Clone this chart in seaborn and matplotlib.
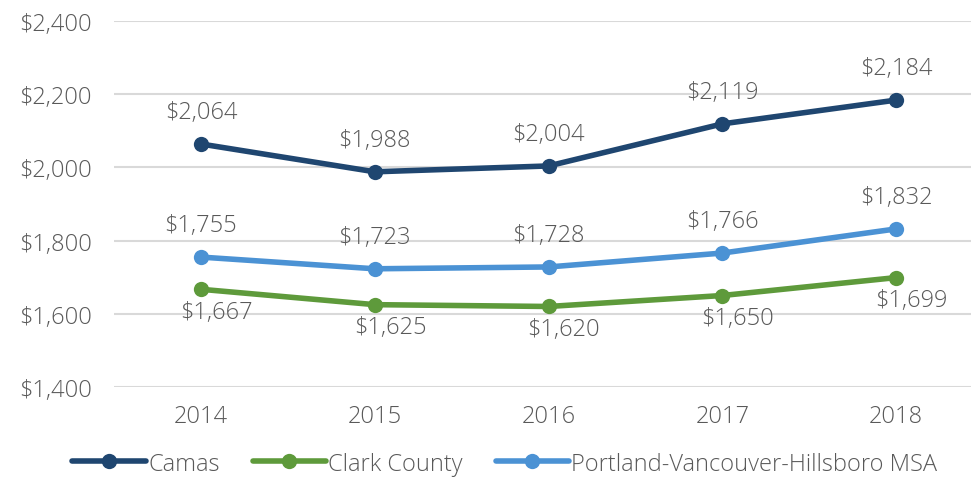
import matplotlib
matplotlib.use("Agg")
import matplotlib.pyplot as plt
import seaborn as sns
import pandas as pd
from matplotlib.lines import Line2D

years = ["2014", "2015", "2016", "2017", "2018"]
camas = [2064, 1988, 2004, 2119, 2184]
clark = [1667, 1625, 1620, 1650, 1699]
portland = [1755, 1723, 1728, 1766, 1832]

series_names = ["Camas", "Clark County", "Portland-Vancouver-Hillsboro MSA"]
colors = ["#1F4670", "#5E9A3B", "#4B92D4"]

df = pd.DataFrame({
    "Year": years * 3,
    "Rent": camas + clark + portland,
    "Area": [n for n in series_names for _ in years],
})
df["x"] = list(range(len(years))) * 3

sns.set_theme(style="white")
plt.rcParams["font.family"] = ["Open Sans", "DejaVu Sans"]
plt.rcParams["font.weight"] = "light"

fig = plt.figure(figsize=(9.71, 4.85), dpi=100)
ax = fig.add_axes([0.1174, 0.2, 0.8826, 0.7546])

sns.lineplot(data=df, x="x", y="Rent", hue="Area", palette=colors,
             hue_order=series_names, marker="o", markersize=11,
             markeredgewidth=0, linewidth=4, ax=ax, legend=False, zorder=3)

text_color = "#595959"
fs = 17
for vals, offset in [(camas, (0, 23)), (portland, (0, 23)), (clark, (11, -16))]:
    for i, v in enumerate(vals):
        ax.annotate(f"${v:,}", (i, v), xytext=offset, textcoords="offset points",
                    ha="center", va="center", fontsize=fs, color=text_color)

ax.set_ylim(1400, 2400)
ax.set_xlim(-0.5, 4.43)
ax.set_yticks(range(1400, 2401, 200))
ax.set_yticklabels([f"${t:,}" for t in range(1400, 2401, 200)])
ax.set_xticks(range(len(years)))
ax.set_xticklabels(years)
ax.tick_params(axis="both", labelsize=fs, colors=text_color, length=0)
ax.tick_params(axis="y", pad=16)
ax.tick_params(axis="x", pad=12)
ax.grid(axis="y", color="#D9D9D9", linewidth=1.5)
ax.set_axisbelow(True)
for s in ax.spines.values():
    s.set_visible(False)
ax.set_xlabel("")
ax.set_ylabel("")

handles = [Line2D([0], [0], color=c, linewidth=4, marker="o", markersize=11,
                  markeredgewidth=0) for c in colors]
fig.legend(handles, series_names, loc="center", bbox_to_anchor=(0.52, 0.042),
           ncol=3, frameon=False, fontsize=fs, handlelength=3.1,
           handletextpad=0.1, columnspacing=1.4, labelcolor=text_color)

fig.savefig("out.png", dpi=100)
